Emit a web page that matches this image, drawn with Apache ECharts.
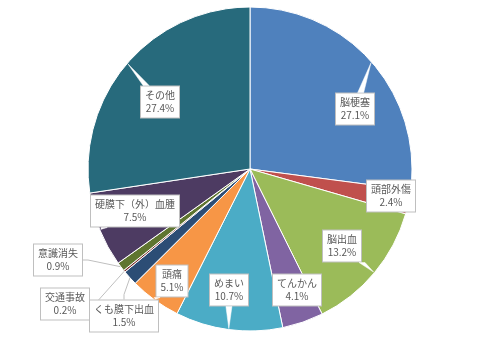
<!DOCTYPE html>
<html><head><meta charset="utf-8">
<script src="https://cdn.jsdelivr.net/npm/echarts@6/dist/echarts.min.js"></script>
<style>html,body{margin:0;padding:0;background:#fff}#c{width:500px;height:360px}</style>
</head><body><div id="c"></div>
<script>
const categories = ['脳梗塞','頭部外傷','脳出血','てんかん','めまい','頭痛','くも膜下出血','交通事故','意識消失','硬膜下（外）血腫','その他'];
const values = [27.1, 2.4, 13.2, 4.1, 10.7, 5.1, 1.5, 0.2, 0.9, 7.5, 27.4];
const colors = ['#4F81BD','#C0504D','#9BBB59','#8064A2','#4BACC6','#F79646','#2C4D75','#772C2A','#5F7530','#4D3B62','#276A7C'];
// label box centres (px)
const labelPos = [[355,109],[391,196],[342,246],[297,290],[229,290],[172,281],[124,316],[65,304],[58,260],[135,211],[160,102]];
const insideLead = [true,false,true,false,true,true,false,false,false,true,true];

const CX = 250, CY = 169, R = 162;
const total = values.reduce((a,b)=>a+b,0);
function edgePoint(i){
  let cum = 0; for (let k=0;k<i;k++) cum += values[k];
  const mid = (cum + values[i]/2) / total * Math.PI * 2; // clockwise from top
  return [CX + (R-1)*Math.sin(mid), CY - (R-1)*Math.cos(mid)];
}
const rectSize = [];

const chart = echarts.init(document.getElementById('c'), null, {renderer:'canvas'});
chart.setOption({
  animation:false,
  series:[{
    type:'pie',
    center:[CX,CY],
    radius:[0,R],
    startAngle:90,
    clockwise:true,
    avoidLabelOverlap:false,
    itemStyle:{borderColor:'#fff',borderWidth:1},
    label:{
      show:true,
      position:'outside',
      formatter:'{b}\n{c}%',
      color:'#595959',
      fontSize:10,
      lineHeight:13,
      fontFamily:'"Noto Sans CJK JP", sans-serif',
      backgroundColor:'#fff',
      borderColor:'#BFBFBF',
      borderWidth:1,
      padding:[3,4,2,4],
      align:'center'
    },
    labelLine:{show:true,length:5,length2:5,lineStyle:{color:'#BFBFBF',width:1}},
    labelLayout:function(p){
      const i = p.dataIndex;
      const pos = labelPos[i];
      rectSize[i] = [p.labelRect.width, p.labelRect.height];
      return {x:pos[0], y:pos[1], align:'center', verticalAlign:'middle'};
    },
    data: categories.map((n,i)=>({
      name:n, value:values[i],
      itemStyle:{color:colors[i]},
      labelLine:{show: !insideLead[i]}
    }))
  }]
});

// callout pointers (white wedges) for labels placed inside the pie
const wedges = [];
categories.forEach((n,i)=>{
  if (!insideLead[i] || !rectSize[i]) return;
  const a = edgePoint(i), c = labelPos[i];
  const hw = rectSize[i][0]/2, hh = rectSize[i][1]/2;
  const dx = a[0]-c[0], dy = a[1]-c[1];
  let p1, p2;
  if (Math.abs(dx)*hh > Math.abs(dy)*hw) {
    const x = c[0] + Math.sign(dx)*hw, y = c[1] + dy*(hw/Math.abs(dx));
    p1 = [x, y-3]; p2 = [x, y+3];
  } else {
    const y = c[1] + Math.sign(dy)*hh, x = c[0] + dx*(hh/Math.abs(dy));
    p1 = [x-3, y]; p2 = [x+3, y];
  }
  wedges.push({type:'polygon', z:100, shape:{points:[a,p1,p2]}, style:{fill:'#ffffff', stroke:'#ffffff', lineWidth:0.5}});
});
chart.setOption({graphic:{elements:wedges}});
</script></body></html>
